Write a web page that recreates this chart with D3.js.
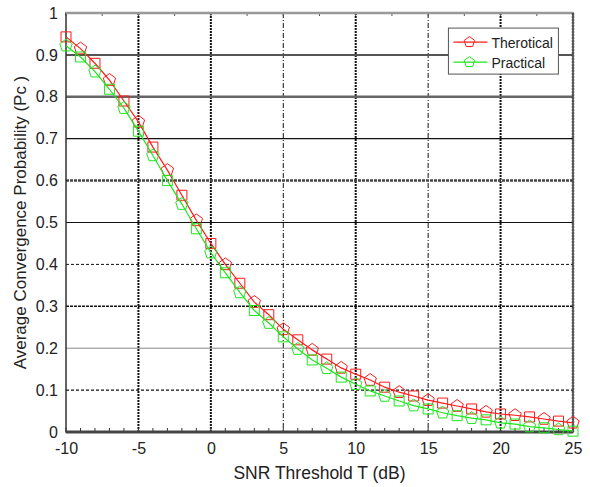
<!DOCTYPE html>
<html>
<head>
<meta charset="utf-8">
<script src="https://cdn.jsdelivr.net/npm/d3@7"></script>
<style>
  body { margin: 0; background: #fff; }
  text { font-family: "Liberation Sans", Arial, sans-serif; fill: #222; }
</style>
</head>
<body>
<div id="vis-container"></div>
<script>
// data
const snr = d3.range(-10, 26);  // -10 .. 25 dB
const theoretical = [0.943, 0.915, 0.88, 0.84, 0.79, 0.74, 0.68, 0.625, 0.565, 0.505,
  0.45, 0.40, 0.355, 0.31, 0.28, 0.245, 0.22, 0.196, 0.174, 0.153,
  0.138, 0.124, 0.107, 0.095, 0.086, 0.076, 0.069, 0.062, 0.055, 0.048,
  0.043, 0.040, 0.036, 0.031, 0.026, 0.022];
const practical = [0.922, 0.895, 0.86, 0.818, 0.773, 0.718, 0.66, 0.60, 0.544, 0.485,
  0.428, 0.38, 0.333, 0.29, 0.26, 0.227, 0.198, 0.172, 0.152, 0.131,
  0.114, 0.098, 0.086, 0.074, 0.063, 0.055, 0.046, 0.039, 0.033, 0.029,
  0.022, 0.019, 0.013, 0.010, 0.006, 0.002];
const xTicks = [-10, -5, 0, 5, 10, 15, 20, 25];
const yTicks = [0, 0.1, 0.2, 0.3, 0.4, 0.5, 0.6, 0.7, 0.8, 0.9, 1];
const seriesNames = ["Therotical", "Practical"];

// margin convention
let margin = {top: 13, right: 17, bottom: 55, left: 66};
let width = 590 - margin.left - margin.right;
let height = 487 - margin.top - margin.bottom;

let svg = d3.select("#vis-container")
  .append("svg")
  .attr("width", 590)
  .attr("height", 487);

let g = svg.append("g")
  .attr("transform", `translate(${margin.left}, ${margin.top})`);

//scales
let x = d3.scaleLinear().domain([-10, 25]).range([0, width]);
let y = d3.scaleLinear().domain([0, 1]).range([height, 0]);

// grid lines (the original has mixed rendering of the dotted grid)
const vStyle = {"-5": "heavy", "0": "heavy", "10": "heavy", "20": "heavy", "5": "light", "15": "light"};
g.append("g").selectAll("line")
  .data(xTicks.filter(d => d > -10 && d < 25))
  .join("line")
    .attr("x1", d => x(d)).attr("x2", d => x(d))
    .attr("y1", 0).attr("y2", height)
    .attr("stroke", "#111")
    .attr("stroke-width", d => vStyle[d] === "heavy" ? 2 : 1)
    .attr("stroke-dasharray", d => vStyle[d] === "heavy" ? "2,1" : "5,2,1,2");

const hStyle = {
  "0.9": {w: 2, c: "#555", dash: null},
  "0.8": {w: 2.5, c: "#666", dash: null},
  "0.7": {w: 1.2, c: "#111", dash: null},
  "0.6": {w: 2.5, c: "#444", dash: "3,1"},
  "0.5": {w: 1.2, c: "#111", dash: null},
  "0.4": {w: 1, c: "#111", dash: "3,2"},
  "0.3": {w: 1.5, c: "#111", dash: "3,1"},
  "0.2": {w: 1, c: "#888", dash: null},
  "0.1": {w: 1.3, c: "#111", dash: "3,2"}
};
g.append("g").selectAll("line")
  .data(yTicks.filter(d => d > 0 && d < 1))
  .join("line")
    .attr("x1", 0).attr("x2", width)
    .attr("y1", d => y(d)).attr("y2", d => y(d))
    .attr("stroke", d => hStyle[d].c)
    .attr("stroke-width", d => hStyle[d].w)
    .attr("stroke-dasharray", d => hStyle[d].dash);

// minor ticks along top and bottom
let minor = g.append("g");
minor.selectAll("line.b")
  .data(d3.range(-10, 26))
  .join("line")
    .attr("class", "b")
    .attr("x1", d => x(d)).attr("x2", d => x(d))
    .attr("y1", height).attr("y2", height - 4)
    .attr("stroke", "#333");
minor.selectAll("line.t")
  .data(d3.range(-10, 26, 2.5))
  .join("line")
    .attr("class", "t")
    .attr("x1", d => x(d)).attr("x2", d => x(d))
    .attr("y1", 0).attr("y2", 3)
    .attr("stroke", "#555");

// frame
g.append("rect")
  .attr("width", width).attr("height", height)
  .attr("fill", "none")
  .attr("stroke", "#333")
  .attr("stroke-width", 1.5);
g.append("line")
  .attr("x1", 0).attr("x2", width)
  .attr("y1", height).attr("y2", height)
  .attr("stroke", "#444").attr("stroke-width", 3);
g.append("line")
  .attr("x1", 0).attr("x2", width)
  .attr("y1", 0).attr("y2", 0)
  .attr("stroke", "#999").attr("stroke-width", 2.5);
g.append("line")
  .attr("x1", width).attr("x2", width)
  .attr("y1", 0).attr("y2", height)
  .attr("stroke", "#555").attr("stroke-width", 2.5)
  .attr("stroke-dasharray", "2,1");

// axes
let xAxis = d3.axisBottom(x).tickValues(xTicks).tickSize(0).tickPadding(11)
  .tickFormat(d => String(d));
let yAxis = d3.axisLeft(y).tickValues(yTicks).tickSize(0).tickPadding(8)
  .tickFormat(d => d === 0 || d === 1 ? String(d) : d3.format(".1f")(d));

let xAxisGroup = g.append("g")
  .attr("transform", `translate(0,${height})`)
  .call(xAxis);
let yAxisGroup = g.append("g").call(yAxis);
[xAxisGroup, yAxisGroup].forEach(a => {
  a.select(".domain").remove();
  a.selectAll("text").attr("font-size", "16px").attr("fill", "#222")
    .attr("font-family", "Liberation Sans, Arial, sans-serif");
});

// axis labels
g.append("text")
  .attr("x", width / 2)
  .attr("y", height + 47)
  .attr("font-size", "17.5px")
  .attr("text-anchor", "middle")
  .text("SNR Threshold T (dB)");

g.append("text")
  .attr("x", -(height / 2))
  .attr("y", -40)
  .attr("font-size", "17px")
  .attr("text-anchor", "middle")
  .attr("transform", "rotate(-90)")
  .text("Average Convergence Probability (Pc )");

// series
function pentPath(r) {
  let pts = d3.range(5).map(i => {
    let a = -Math.PI / 2 + i * 2 * Math.PI / 5;
    return [r * Math.cos(a), r * Math.sin(a)];
  });
  return "M" + pts.join("L") + "Z";
}
function squarePath(r) {
  return `M${-r},${-r}L${r},${-r}L${r},${r}L${-r},${r}Z`;
}

const series = [
  {name: seriesNames[0], values: theoretical, color: "#ff1a1a"},
  {name: seriesNames[1], values: practical, color: "#1ee61e"}
];

let line = d3.line()
  .x((d, i) => x(snr[i]))
  .y(d => y(d));

series.forEach((s, k) => {
  g.append("path")
    .datum(s.values)
    .attr("fill", "none")
    .attr("stroke", s.color)
    .attr("stroke-width", 1.2)
    .attr("d", line);

  g.selectAll(`path.m${k}`)
    .data(s.values)
    .join("path")
      .attr("class", `m${k}`)
      .attr("transform", (d, i) => `translate(${x(snr[i])},${y(d)})`)
      .attr("d", (d, i) => ((i + k) % 2 === 0 ? squarePath(5) : pentPath(6.5)))
      .attr("fill", "none")
      .attr("stroke", s.color)
      .attr("stroke-width", 1);
});

// legend
let legend = g.append("g")
  .attr("transform", `translate(${x(16.4)}, ${y(0.964)})`);
legend.append("rect")
  .attr("width", 110).attr("height", 46)
  .attr("fill", "#fff")
  .attr("stroke", "#555");
series.forEach((s, k) => {
  let row = legend.append("g").attr("transform", `translate(0, ${14 + k * 20})`);
  row.append("line")
    .attr("x1", 5).attr("x2", 39)
    .attr("stroke", s.color).attr("stroke-width", 1.2);
  row.append("path")
    .attr("transform", "translate(21,0)")
    .attr("d", pentPath(5.5))
    .attr("fill", "none")
    .attr("stroke", s.color);
  row.append("text")
    .attr("x", 43).attr("y", 6)
    .attr("font-size", "14px")
    .text(s.name);
});
</script>
</body>
</html>
